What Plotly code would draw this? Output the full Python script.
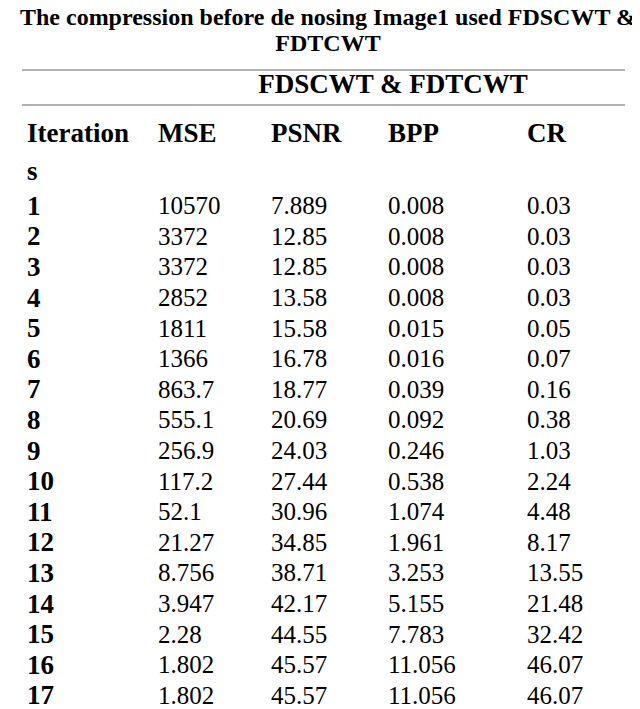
import plotly.graph_objects as go

iterations = [str(i) for i in range(1, 18)]
mse = ["10570", "3372", "3372", "2852", "1811", "1366", "863.7", "555.1", "256.9", "117.2",
       "52.1", "21.27", "8.756", "3.947", "2.28", "1.802", "1.802"]
psnr = ["7.889", "12.85", "12.85", "13.58", "15.58", "16.78", "18.77", "20.69", "24.03", "27.44",
        "30.96", "34.85", "38.71", "42.17", "44.55", "45.57", "45.57"]
bpp = ["0.008", "0.008", "0.008", "0.008", "0.015", "0.016", "0.039", "0.092", "0.246", "0.538",
       "1.074", "1.961", "3.253", "5.155", "7.783", "11.056", "11.056"]
cr = ["0.03", "0.03", "0.03", "0.03", "0.05", "0.07", "0.16", "0.38", "1.03", "2.24",
      "4.48", "8.17", "13.55", "21.48", "32.42", "46.07", "46.07"]
headers = ["Iteration", "MSE", "PSNR", "BPP", "CR"]

FONT = "Liberation Serif"
col_x = [19, 150, 263, 380, 519]
row_y = [200 + i * 30.6 for i in range(17)]

fig = go.Figure()
fig.add_trace(go.Scatter(x=col_x, y=[127] * 5, text=[f"<b>{h}</b>" for h in headers],
                         mode="text", textposition="middle right",
                         textfont=dict(family=FONT, size=27, color="black")))
fig.add_trace(go.Scatter(x=[col_x[0]], y=[165], text=["<b>s</b>"], mode="text", textposition="middle right",
                         textfont=dict(family=FONT, size=27, color="black")))
fig.add_trace(go.Scatter(x=[col_x[0]] * 17, y=row_y, text=[f"<b>{v}</b>" for v in iterations],
                         mode="text", textposition="middle right",
                         textfont=dict(family=FONT, size=27, color="black")))
for cx, col in zip(col_x[1:], [mse, psnr, bpp, cr]):
    fig.add_trace(go.Scatter(x=[cx] * 17, y=row_y, text=col, mode="text", textposition="middle right",
                             textfont=dict(family=FONT, size=25, color="black")))
fig.add_trace(go.Scatter(x=[385], y=[78], text=["<b>FDSCWT &amp; FDTCWT</b>"], mode="text",
                         textposition="middle center",
                         textfont=dict(family=FONT, size=27, color="black")))
fig.add_trace(go.Scatter(x=[320, 320], y=[11, 37],
                         text=["<b>The compression before de nosing Image1 used FDSCWT &amp;</b>", "<b>FDTCWT</b>"],
                         mode="text", textposition="middle center",
                         textfont=dict(family=FONT, size=24, color="black")))

for yy in [62, 97, 707]:
    fig.add_shape(type="line", x0=14, x1=617, y0=yy, y1=yy, line=dict(color="#999999", width=1.5))

fig.update_layout(width=640, height=709, margin=dict(l=0, r=0, t=0, b=0),
                  plot_bgcolor="white", paper_bgcolor="white", showlegend=False,
                  xaxis=dict(range=[0, 640], visible=False, fixedrange=True),
                  yaxis=dict(range=[709, 0], visible=False, fixedrange=True))
fig.write_html("out.html", config={"displayModeBar": False})
